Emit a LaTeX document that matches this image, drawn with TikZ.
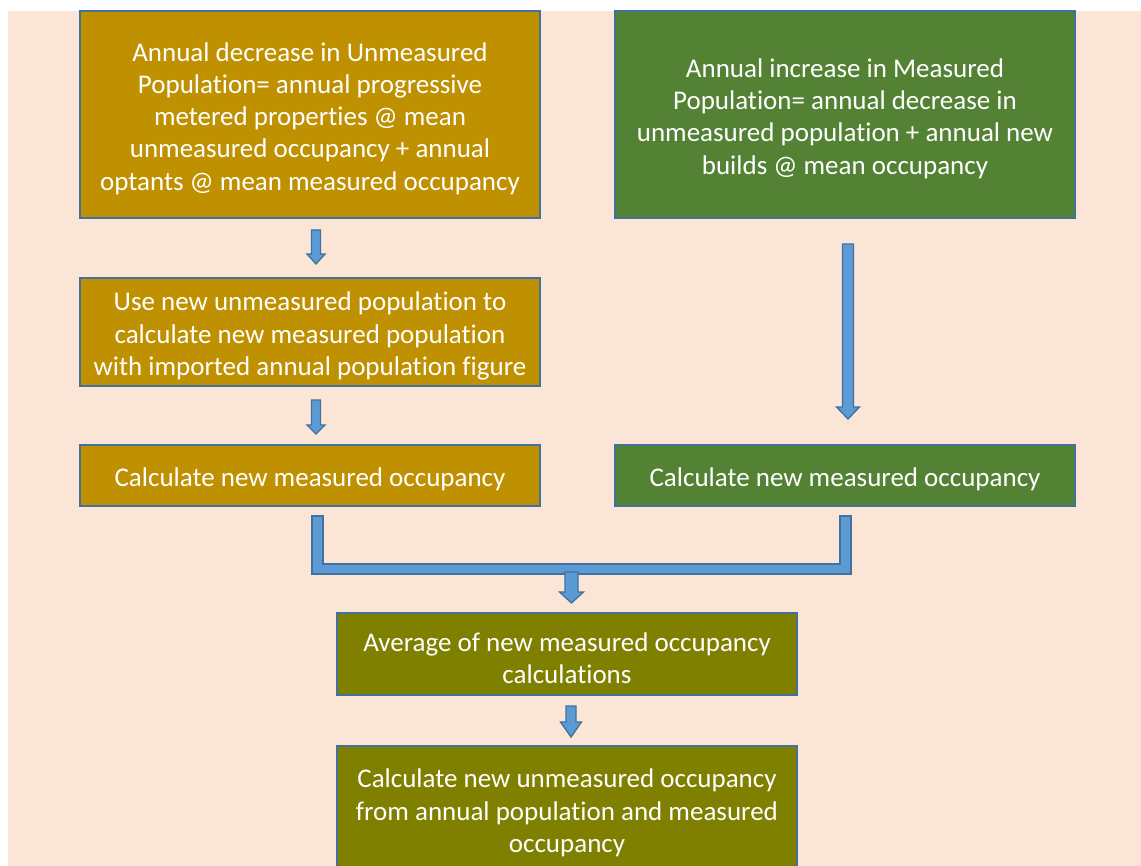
\documentclass[tikz,border=0pt]{standalone}
\usepackage{fontspec}
\setmainfont{Carlito}[Ligatures=NoCommon]
\usetikzlibrary{calc}

\definecolor{peach}{HTML}{FBE5D6}
\definecolor{gold}{HTML}{BF9000}
\definecolor{leaf}{HTML}{548235}
\definecolor{olive}{HTML}{7F7F00}
\definecolor{edge}{HTML}{41719C}
\definecolor{arrowfill}{HTML}{5B9BD5}

\tikzset{
  box/.style={draw=edge, line width=2pt, minimum width=460pt, inner sep=0pt},
  txt/.style={text=white, align=center, inner sep=0pt,
    font=\fontsize{27}{32.3}\selectfont},
  barrow/.style={fill=arrowfill, draw=edge, line width=1.3pt, line join=miter}
}

% block arrow: #1 top, #2 tip, #3 half shaft width, #4 half head width, #5 head length
\newcommand\blockarrow[5]{%
  \path let \p1=#1, \p2=#2 in
    [barrow] (\x1-#3,\y1) -- (\x1+#3,\y1) -- (\x1+#3,\y2+#5) -- (\x1+#4,\y2+#5)
      -- (\x1,\y2) -- (\x1-#4,\y2+#5) -- (\x1-#3,\y2+#5) -- cycle;}

\begin{document}
\begin{tikzpicture}[x=1pt,y=-1pt]
\useasboundingbox (0,0) rectangle (1141,866);
\clip (0,0) rectangle (1141,866);
\fill[white] (0,0) rectangle (1141,866);
\fill[peach] (8,11) rectangle (1141,866);

% boxes
\node[box, fill=gold, minimum height=207pt] (b1) at (310,114.5) {};
\node[box, fill=leaf, minimum height=207pt] (b2) at (845,114.5) {};
\node[box, fill=gold, minimum height=108pt] (b3) at (310,332) {};
\node[box, fill=gold, minimum height=61pt] (b4) at (310,475.5) {};
\node[box, fill=leaf, minimum height=61pt] (b5) at (845,475.5) {};
\node[box, fill=olive, minimum height=82pt] (b6) at (567,654) {};
\node[box, fill=olive, minimum height=126pt] (b7) at (567,809) {};

% box texts
\node[txt] (t1) at ($(b1.center)+(0,4)$)
  {Annual decrease in Unmeasured\\Population= annual progressive\\metered properties @ mean\\unmeasured occupancy + annual\\optants @ mean measured occupancy};
\node[txt] (t2) at ($(b2.center)+(0,4)$)
  {Annual increase in Measured\\Population= annual decrease in\\unmeasured population + annual new\\builds @ mean occupancy};
\node[txt] (t3) at ($(b3.center)+(0,4)$)
  {Use new unmeasured population to\\calculate new measured population\\with imported annual population figure};
\node[txt] (t4) at ($(b4.center)+(0,4)$) {Calculate new measured occupancy};
\node[txt] (t5) at ($(b5.center)+(0,4)$) {Calculate new measured occupancy};
\node[txt] (t6) at ($(b6.center)+(0,4)$)
  {Average of new measured occupancy\\calculations};
\node[txt] (t7) at ($(b7.center)+(0,4)$)
  {Calculate new unmeasured occupancy\\from annual population and measured\\occupancy};

% arrow end points
\coordinate (a1t) at ($(b1.south)+(6,11)$);
\coordinate (a1e) at ($(b3.north)+(6,-13)$);
\coordinate (a2t) at ($(b3.south)+(6,13)$);
\coordinate (a2e) at ($(b4.north)+(6,-10)$);
\coordinate (a3t) at ($(b2.south)+(3,25)$);
\coordinate (a3e) at ($(b5.north)+(3,-25)$);
\coordinate (a5t) at ($(b6.south)+(4,10)$);
\coordinate (a5e) at ($(b7.north)+(4,-8)$);

\blockarrow{(a1t)}{(a1e)}{4.5}{9}{10}
\blockarrow{(a2t)}{(a2e)}{4.5}{9}{9}
\blockarrow{(a3t)}{(a3e)}{5.5}{11.5}{12}

% elbow joining the two occupancy boxes
\coordinate (el) at ($(b4.south)+(7.5,9)$);
\coordinate (er) at ($(b5.south)+(0.5,9)$);
\path let \p1=(el), \p2=(er) in
  [barrow] (\x1-5.5,\y1) -- (\x1+5.5,\y1) -- (\x1+5.5,\y1-48) -- (\x2-5.5,\y1-48)
    -- (\x2-5.5,\y1) -- (\x2+5.5,\y1) -- (\x2+5.5,\y1-58) -- (\x1-5.5,\y1-58) -- cycle;
\coordinate (a4t) at ($(b6.north)+(4.5,-40)$);
\coordinate (a4e) at ($(b6.north)+(4.5,-9)$);
\blockarrow{(a4t)}{(a4e)}{6.5}{12}{11}
\blockarrow{(a5t)}{(a5e)}{5}{10.5}{15}
\end{tikzpicture}
\end{document}
